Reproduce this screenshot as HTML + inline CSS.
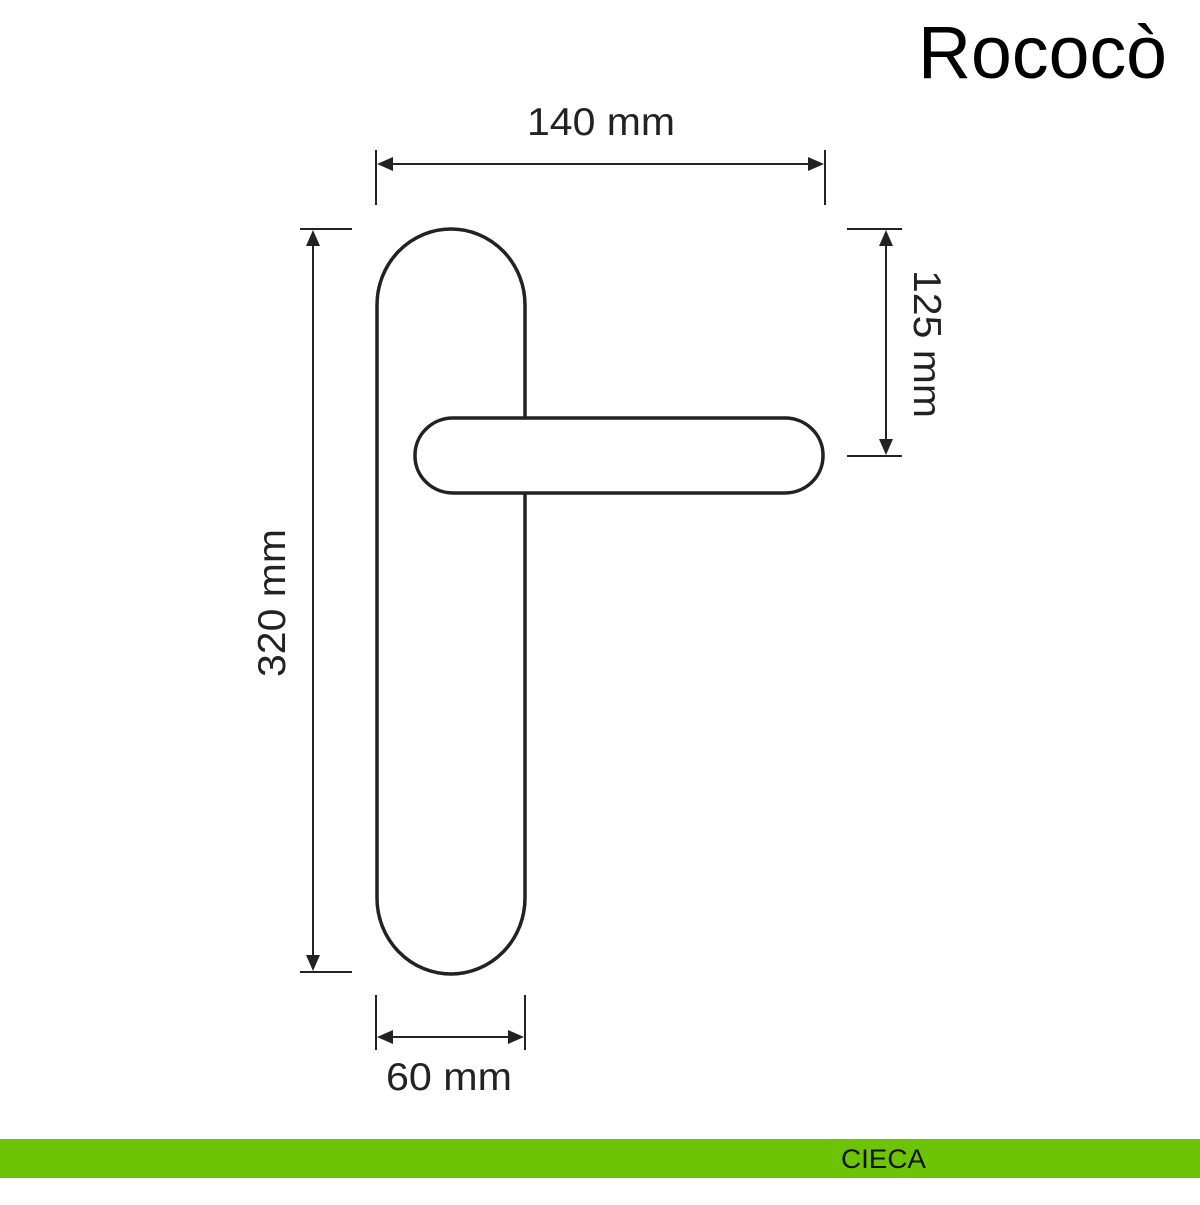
<!DOCTYPE html>
<html><head><style>html,body{margin:0;padding:0;background:#fff}</style></head>
<body>
<svg width="1200" height="1200" viewBox="0 0 1200 1200" xmlns="http://www.w3.org/2000/svg" font-family="Liberation Sans, sans-serif">
<rect width="1200" height="1200" fill="#fff"/>
<text x="918" y="78" font-size="74" fill="#000" textLength="249" lengthAdjust="spacingAndGlyphs">Rococò</text>
<g stroke="#222" stroke-width="2" fill="none">
<line x1="376" y1="150" x2="376" y2="205"/><line x1="825" y1="150" x2="825" y2="205"/>
<line x1="390" y1="164" x2="812" y2="164"/>
<line x1="300" y1="229" x2="352" y2="229"/><line x1="300" y1="972" x2="352" y2="972"/>
<line x1="313" y1="243" x2="313" y2="958"/>
<line x1="847" y1="229" x2="902" y2="229"/><line x1="847" y1="456" x2="902" y2="456"/>
<line x1="886" y1="243" x2="886" y2="442"/>
<line x1="376" y1="995" x2="376" y2="1050"/><line x1="525" y1="995" x2="525" y2="1050"/>
<line x1="390" y1="1037" x2="512" y2="1037"/>
</g>
<g fill="#222">
<polygon points="377,164 393,157 393,171"/><polygon points="824,164 808,157 808,171"/>
<polygon points="313,230 306,246 320,246"/><polygon points="313,971 306,955 320,955"/>
<polygon points="886,230 879,246 893,246"/><polygon points="886,455 879,439 893,439"/>
<polygon points="377,1037 393,1030 393,1044"/><polygon points="524,1037 508,1030 508,1044"/>
</g>
<g stroke="#222" stroke-width="3.5" fill="#fff">
<rect x="377" y="229" width="148" height="745" rx="74" ry="76"/>
<rect x="415" y="418" width="408" height="75" rx="38" ry="37"/>
</g>
<g font-size="39" fill="#222">
<text x="601" y="135" text-anchor="middle" textLength="148" lengthAdjust="spacingAndGlyphs">140 mm</text>
<text x="449" y="1090" text-anchor="middle" textLength="126" lengthAdjust="spacingAndGlyphs">60 mm</text>
<text transform="translate(285,603) rotate(-90)" text-anchor="middle" textLength="148" lengthAdjust="spacingAndGlyphs">320 mm</text>
<text transform="translate(914,344) rotate(90)" text-anchor="middle" textLength="148" lengthAdjust="spacingAndGlyphs">125 mm</text>
</g>
<rect x="0" y="1139" width="1200" height="39" fill="#6cc404"/>
<text x="841" y="1168" font-size="27" fill="#111" textLength="85" lengthAdjust="spacingAndGlyphs">CIECA</text>
</svg>
</body></html>
